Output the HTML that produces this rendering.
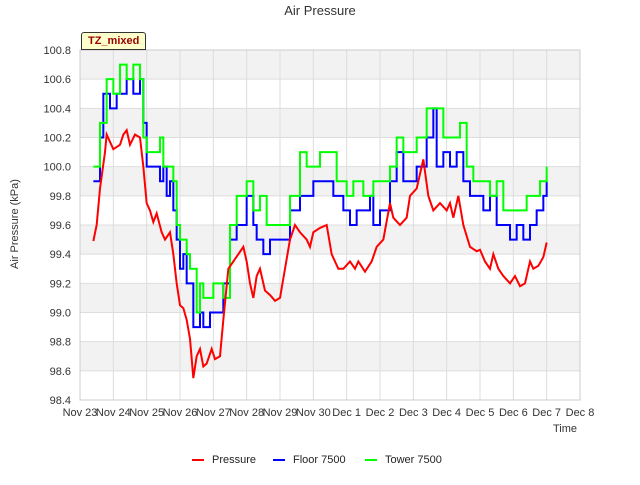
<!DOCTYPE html>
<html><head><meta charset="utf-8"><style>
body{margin:0;background:#fff;font-family:"Liberation Sans",sans-serif}
</style></head><body>
<svg width="640" height="480" id="c" xmlns="http://www.w3.org/2000/svg" font-family="Liberation Sans, sans-serif"></svg>
<script>
const xTicks=["Nov 23","Nov 24","Nov 25","Nov 26","Nov 27","Nov 28","Nov 29","Nov 30","Dec 1","Dec 2","Dec 3","Dec 4","Dec 5","Dec 6","Dec 7","Dec 8"];
const yTicks=[98.4,98.6,98.8,99.0,99.2,99.4,99.6,99.8,100.0,100.2,100.4,100.6,100.8];
const pDays=[0.4,0.5,0.6,0.75,0.8,1.0,1.2,1.3,1.4,1.5,1.65,1.8,1.9,2.0,2.1,2.2,2.3,2.45,2.55,2.7,2.8,2.9,3.0,3.1,3.2,3.3,3.4,3.5,3.6,3.7,3.8,3.95,4.05,4.2,4.3,4.45,4.6,4.75,4.9,5.0,5.1,5.2,5.3,5.4,5.55,5.7,5.85,6.0,6.15,6.3,6.45,6.6,6.8,6.9,7.0,7.2,7.4,7.55,7.75,7.9,8.1,8.25,8.35,8.55,8.75,8.9,9.1,9.3,9.4,9.6,9.8,9.9,10.1,10.3,10.45,10.6,10.8,11.0,11.1,11.2,11.35,11.5,11.7,11.9,12.0,12.15,12.3,12.4,12.55,12.7,12.9,13.05,13.2,13.35,13.5,13.6,13.75,13.9,14.0];
const pressure=[99.49,99.6,99.85,100.1,100.22,100.12,100.15,100.22,100.25,100.15,100.22,100.2,100.0,99.75,99.7,99.62,99.68,99.55,99.5,99.55,99.4,99.2,99.05,99.03,98.95,98.82,98.55,98.7,98.75,98.63,98.65,98.75,98.68,98.7,98.95,99.3,99.35,99.4,99.45,99.35,99.2,99.1,99.25,99.3,99.15,99.12,99.08,99.1,99.3,99.5,99.6,99.55,99.5,99.45,99.55,99.58,99.6,99.4,99.3,99.3,99.35,99.3,99.35,99.28,99.35,99.45,99.5,99.75,99.65,99.6,99.65,99.8,99.85,100.05,99.8,99.7,99.75,99.7,99.75,99.65,99.8,99.6,99.45,99.42,99.43,99.35,99.3,99.4,99.3,99.25,99.2,99.25,99.18,99.2,99.35,99.3,99.32,99.38,99.48];
const fDays=[0.4,0.5,0.6,0.7,0.9,1.1,1.4,1.6,1.8,1.9,2.0,2.3,2.4,2.5,2.6,2.7,2.8,2.9,3.0,3.1,3.2,3.4,3.6,3.7,3.9,4.3,4.5,4.7,4.8,5.0,5.2,5.3,5.5,5.7,6.0,6.3,6.6,7.0,7.5,7.6,7.9,8.1,8.3,8.5,8.7,8.8,9.0,9.3,9.5,9.7,10.0,10.1,10.4,10.6,10.7,10.9,11.1,11.3,11.5,11.7,11.9,12.1,12.3,12.5,12.9,13.1,13.3,13.5,13.7,13.9,14.0];
const floor7500=[99.9,99.9,100.2,100.5,100.4,100.5,100.6,100.5,100.6,100.3,100.0,100.0,99.9,100.0,99.8,99.9,99.7,99.5,99.3,99.4,99.2,98.9,99.0,98.9,99.0,99.2,99.5,99.6,99.6,99.8,99.6,99.5,99.4,99.5,99.5,99.7,99.8,99.9,99.9,99.8,99.7,99.6,99.7,99.7,99.8,99.6,99.7,99.9,100.1,99.9,99.9,100.0,100.2,100.4,100.0,100.1,100.0,100.1,99.9,99.8,99.8,99.7,99.8,99.6,99.5,99.6,99.5,99.6,99.7,99.8,99.9];
const tDays=[0.4,0.5,0.6,0.8,1.0,1.2,1.4,1.6,1.8,1.9,2.0,2.3,2.4,2.5,2.8,2.9,3.0,3.2,3.3,3.5,3.6,3.7,3.9,4.0,4.3,4.5,4.7,5.0,5.2,5.4,5.6,6.0,6.3,6.6,6.8,7.0,7.2,7.7,8.0,8.2,8.5,8.8,9.0,9.3,9.5,9.7,10.1,10.4,10.7,10.9,11.1,11.4,11.6,11.8,12.0,12.3,12.5,12.7,13.0,13.4,13.6,13.8,14.0];
const tower7500=[100.0,100.0,100.3,100.6,100.5,100.7,100.6,100.7,100.6,100.2,100.1,100.1,100.2,100.0,99.9,99.6,99.5,99.4,99.3,99.0,99.2,99.1,99.1,99.2,99.1,99.6,99.8,99.9,99.7,99.8,99.6,99.6,99.8,100.1,100.0,100.0,100.1,99.9,99.8,99.9,99.8,99.9,99.9,100.0,100.2,100.1,100.2,100.4,100.4,100.2,100.2,100.3,100.0,99.9,99.9,99.8,99.9,99.7,99.7,99.8,99.8,99.9,100.0];

const svg=document.getElementById('c');const NS='http://www.w3.org/2000/svg';
const L=80,R=580,T=50,B=400;
const X=d=>L+d*(R-L)/15;const Y=v=>B-(v-98.4)*(B-T)/2.4;
function mk(t,a,p){const e=document.createElementNS(NS,t);for(const k in a)e.setAttribute(k,a[k]);(p||svg).appendChild(e);return e;}
for(let i=0;i<12;i++){const v=yTicks[i];const r=mk('rect',{x:L,y:Y(yTicks[i+1]),width:R-L,height:Y(v)-Y(yTicks[i+1]),fill:i%2==0?'#fff':'#f2f2f2'});

}
yTicks.forEach(v=>{const l=mk('line',{x1:L,x2:R,y1:Y(v),y2:Y(v),stroke:'#ddd'});


const t=mk('text',{x:L-9,y:Y(v)+4,'text-anchor':'end','font-size':11,fill:'#333'});t.textContent=v.toFixed(1);

});
xTicks.forEach((s,i)=>{const l=mk('line',{x1:X(i),x2:X(i),y1:T,y2:B,stroke:'#ddd'});


const t=mk('text',{x:X(i),y:B+16,'text-anchor':'middle','font-size':11,fill:'#333'});t.textContent=s;

});
const fr=mk('rect',{x:L,y:T,width:R-L,height:B-T,fill:'none',stroke:'#ccc'});


function series(days,vals,col,name,step){let pts=[];days.forEach((d,i)=>{if(step&&i>0)pts.push(X(d)+','+Y(vals[i-1]));pts.push(X(d)+','+Y(vals[i]));});
const p=mk('polyline',{points:pts.join(' '),fill:'none',stroke:col,'stroke-width':2});

}
series(fDays,floor7500,'#0000ff','floor-7500-line',true);
series(tDays,tower7500,'#00ff00','tower-7500-line',true);
series(pDays,pressure,'#ff0000','pressure-line',false);
</script>
<div style="position:absolute;left:0;top:3px;width:640px;text-align:center;font-size:13px;color:#333">Air Pressure</div>
<div style="position:absolute;left:-35px;top:218px;width:100px;text-align:center;font-size:11px;color:#333;transform:rotate(-90deg)">Air Pressure (kPa)</div>
<div style="position:absolute;left:553px;top:423px;font-size:11px;color:#333">Time</div>
<div style="position:absolute;left:81px;top:32px;padding:2px 6px;background:#ffffcc;border:1px solid #333;border-radius:3px 3px 0 0;font-size:11px;font-weight:bold;color:#990000">TZ_mixed</div>
<div style="position:absolute;left:0;top:454px;width:640px;font-size:11px;color:#222">
<span style="position:absolute;left:192px"><span style="display:inline-block;width:12px;height:2px;background:#f00;vertical-align:middle;margin-right:8px"></span>Pressure</span>
<span style="position:absolute;left:273px"><span style="display:inline-block;width:12px;height:2px;background:#00f;vertical-align:middle;margin-right:8px"></span>Floor 7500</span>
<span style="position:absolute;left:365px"><span style="display:inline-block;width:12px;height:2px;background:#0f0;vertical-align:middle;margin-right:8px"></span>Tower 7500</span>
</div>
</body></html>
